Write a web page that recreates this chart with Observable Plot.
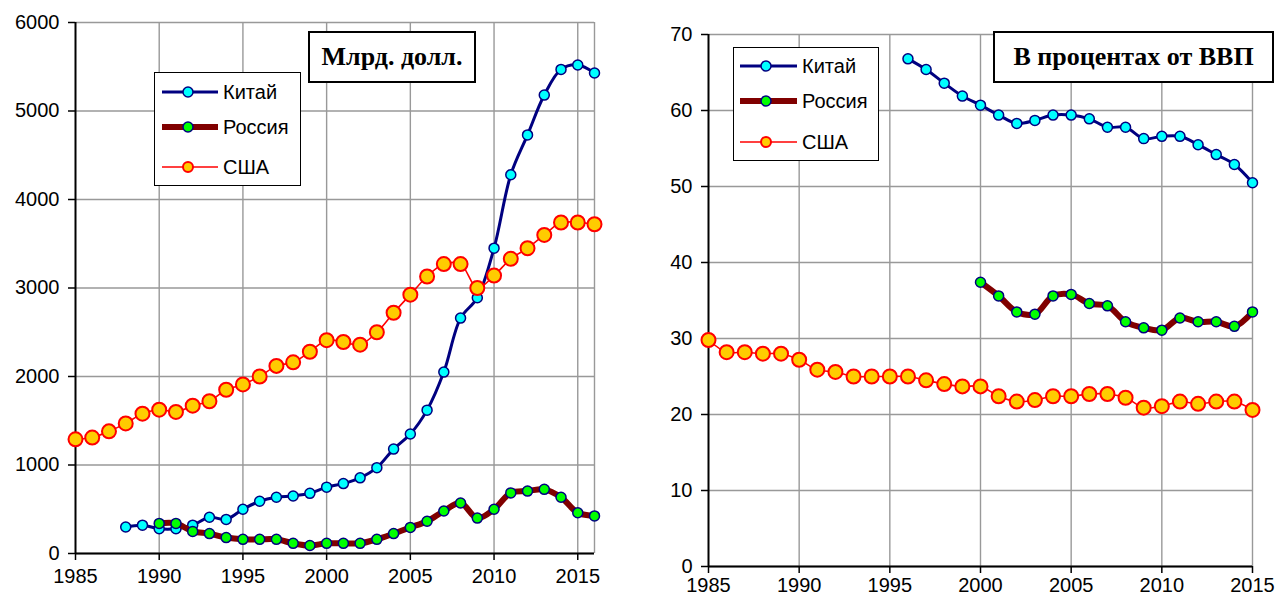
<!DOCTYPE html>
<html><head><meta charset="utf-8">
<script src="https://cdn.jsdelivr.net/npm/d3@7"></script>
<script src="https://cdn.jsdelivr.net/npm/@observablehq/plot@0.6"></script>
<style>
body{margin:0;background:#fff;}
#wrap{position:relative;width:1277px;height:598px;overflow:hidden;font-family:"Liberation Sans",Arial,sans-serif;background:#fff;}
.panel{position:absolute;top:0;}
.legend{position:absolute;border:1.5px solid #000;background:#fff;box-sizing:border-box;}
.row{position:absolute;left:0;height:30px;width:100%;}
.row svg{position:absolute;left:0;top:0;}
.row span{position:absolute;left:67px;top:0;line-height:30px;font-size:20px;color:#000;white-space:nowrap;}
.titlebox{position:absolute;border:2px solid #000;background:#fff;box-sizing:border-box;display:flex;align-items:center;justify-content:center;font-family:"Liberation Serif","Times New Roman",serif;font-weight:bold;font-size:26px;color:#000;white-space:nowrap;}
</style>
</head><body>
<div id="wrap"></div>
<script>
// ---------- Left panel: billions of dollars ----------
const chinaYearsL = [1988,1989,1990,1991,1992,1993,1994,1995,1996,1997,1998,1999,2000,2001,2002,2003,2004,2005,2006,2007,2008,2009,2010,2011,2012,2013,2014,2015,2016];
const chinaValsL  = [300,320,280,280,320,410,385,500,590,635,650,680,750,790,855,970,1180,1350,1620,2050,2660,2890,3450,4280,4730,5180,5470,5520,5430];
const russiaYearsL = [1990,1991,1992,1993,1994,1995,1996,1997,1998,1999,2000,2001,2002,2003,2004,2005,2006,2007,2008,2009,2010,2011,2012,2013,2014,2015,2016];
const russiaValsL  = [340,340,250,225,180,160,160,160,115,90,115,115,115,160,225,295,365,480,570,400,500,685,705,725,635,460,425];
const usaYearsL = [1985,1986,1987,1988,1989,1990,1991,1992,1993,1994,1995,1996,1997,1998,1999,2000,2001,2002,2003,2004,2005,2006,2007,2008,2009,2010,2011,2012,2013,2014,2015,2016];
const usaValsL  = [1290,1310,1380,1470,1580,1625,1600,1670,1720,1850,1910,2000,2120,2160,2280,2410,2390,2360,2500,2720,2925,3130,3270,3270,3000,3140,3330,3450,3600,3740,3740,3720];
const xTicksL = [1985,1990,1995,2000,2005,2010,2015];
const xGridL = [1990,1995,2000,2005,2010,2015,2016];
const yTicksL = [0,1000,2000,3000,4000,5000,6000];

// ---------- Right panel: percent of GDP ----------
const chinaYearsR = [1996,1997,1998,1999,2000,2001,2002,2003,2004,2005,2006,2007,2008,2009,2010,2011,2012,2013,2014,2015];
const chinaValsR  = [66.8,65.4,63.6,61.9,60.7,59.4,58.3,58.7,59.4,59.4,58.9,57.8,57.8,56.3,56.6,56.6,55.5,54.2,52.9,50.5];
const russiaYearsR = [2000,2001,2002,2003,2004,2005,2006,2007,2008,2009,2010,2011,2012,2013,2014,2015];
const russiaValsR  = [37.4,35.6,33.5,33.2,35.6,35.8,34.6,34.3,32.2,31.4,31.1,32.7,32.2,32.2,31.6,33.5];
const usaYearsR = [1985,1986,1987,1988,1989,1990,1991,1992,1993,1994,1995,1996,1997,1998,1999,2000,2001,2002,2003,2004,2005,2006,2007,2008,2009,2010,2011,2012,2013,2014,2015];
const usaValsR  = [29.8,28.2,28.2,28.0,28.0,27.2,25.9,25.6,25.0,25.0,25.0,25.0,24.5,24.0,23.7,23.7,22.4,21.7,21.9,22.4,22.4,22.7,22.7,22.2,20.9,21.1,21.7,21.4,21.7,21.7,20.6];
const xTicksR = [1985,1990,1995,2000,2005,2010,2015];
const xGridR = [1990,1995,2000,2005,2010,2015];
const yTicksR = [0,10,20,30,40,50,60,70];

const seriesNames = ["Китай","Россия","США"];
const titleL = "Млрд. долл.";
const titleR = "В процентах от ВВП";

const styles = {
  "Китай":  {line:"#000080", lw:3,   fill:"#00FFFF", stroke:"#000080", sw:1.5, r:5},
  "Россия": {line:"#800000", lw:6,   fill:"#00FF00", stroke:"#000080", sw:1.5, r:5},
  "США":    {line:"#FF0000", lw:1.6, fill:"#FFCC00", stroke:"#FF0000", sw:2,   r:7}
};

function rows(years, vals){ return years.map((y,i)=>({year:y, v:vals[i]})); }

function seriesMarks(name, data){
  const s = styles[name];
  return [
    Plot.line(data, {x:"year", y:"v", stroke:s.line, strokeWidth:s.lw, curve:"catmull-rom"}),
    Plot.dot(data, {x:"year", y:"v", r:s.r, fill:s.fill, stroke:s.stroke, strokeWidth:s.sw})
  ];
}

function makePanel(o){
  return Plot.plot({
    width:o.width, height:598,
    marginLeft:o.ml, marginRight:o.mr, marginTop:o.mt, marginBottom:o.mb,
    style:{fontFamily:"'Liberation Sans', Arial, sans-serif", fontSize:"20px", color:"#000", background:"transparent", overflow:"visible"},
    x:{domain:o.xdom, label:null},
    y:{domain:o.ydom, label:null},
    marks:[
      Plot.gridY(o.yTicks, {stroke:"#999999", strokeOpacity:1, strokeWidth:1.4}),
      Plot.gridX(o.xGrid, {stroke:"#999999", strokeOpacity:1, strokeWidth:1.4}),
      Plot.axisX(o.xTicks, {tickSize:7, tickPadding:o.xpad, fontSize:20, tickFormat:d=>String(d), label:null, strokeWidth:1.5}),
      Plot.axisY(o.yTicks, {tickSize:7, tickPadding:9, fontSize:20, tickFormat:d=>String(d), label:null, strokeWidth:1.5}),
      Plot.ruleY([o.ydom[0]], {stroke:"#000", strokeWidth:2}),
      Plot.ruleX([o.xdom[0]], {stroke:"#000", strokeWidth:2}),
      ...seriesMarks("Китай", o.china),
      ...seriesMarks("Россия", o.russia),
      ...seriesMarks("США", o.usa)
    ]
  });
}

const wrap = document.getElementById("wrap");

const left = makePanel({width:640, ml:75, mr:46, mt:22, mb:45, xpad:8, xdom:[1985,2016], ydom:[0,6000],
  xTicks:xTicksL, xGrid:xGridL, yTicks:yTicksL,
  china:rows(chinaYearsL, chinaValsL), russia:rows(russiaYearsL, russiaValsL), usa:rows(usaYearsL, usaValsL)});
left.classList.add("panel"); left.style.left = "0px";
wrap.appendChild(left);

const right = makePanel({width:637, ml:68, mr:25, mt:34, mb:32, xpad:4, xdom:[1985,2015], ydom:[0,70],
  xTicks:xTicksR, xGrid:xGridR, yTicks:yTicksR,
  china:rows(chinaYearsR, chinaValsR), russia:rows(russiaYearsR, russiaValsR), usa:rows(usaYearsR, usaValsR)});
right.classList.add("panel"); right.style.left = "640px";
wrap.appendChild(right);

function legend(box, rowsY, sx1, sx2, mx, tx){
  const d = document.createElement("div");
  d.className = "legend";
  Object.assign(d.style, {left:box[0]+"px", top:box[1]+"px", width:box[2]+"px", height:box[3]+"px"});
  seriesNames.forEach((n,i)=>{
    const s = styles[n];
    const r = document.createElement("div");
    r.className = "row";
    r.style.top = (rowsY[i]-15)+"px";
    r.innerHTML = `<svg width="70" height="30"><line x1="${sx1}" x2="${sx2}" y1="15" y2="15" stroke="${s.line}" stroke-width="${s.lw}"/><circle cx="${mx}" cy="15" r="5" fill="${s.fill}" stroke="${s.stroke}" stroke-width="${s.sw}"/></svg><span style="left:${tx}px">${n}</span>`;
    d.appendChild(r);
  });
  wrap.appendChild(d);
}
legend([154,72,147,114], [19,54,94], 7, 63, 33, 68);
legend([733,47,146,114], [18,53,94], 6, 63, 32, 68);

function titleBox(x,y,w,h,t){
  const d = document.createElement("div");
  d.className = "titlebox";
  Object.assign(d.style, {left:x+"px", top:y+"px", width:w+"px", height:h+"px"});
  d.textContent = t;
  wrap.appendChild(d);
}
titleBox(308,31,168,52,titleL);
titleBox(993,31,281,52,titleR);
</script>
</body></html>
